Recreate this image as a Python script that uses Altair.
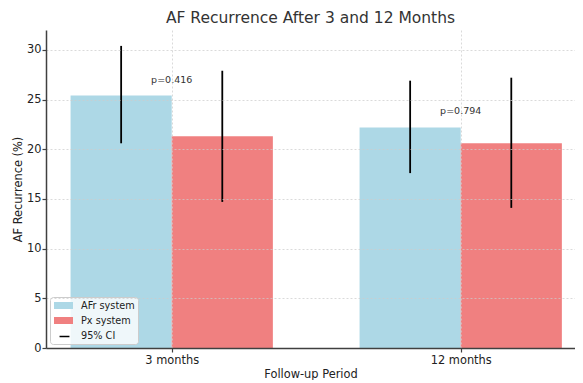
import altair as alt
import pandas as pd

# ---- data ----
periods = ["3 months", "12 months"]
series_names = ["AFr system", "Px system"]
afr_values = [25.4, 22.2]
px_values = [21.3, 20.6]
afr_ci_low = [20.6, 17.6]
afr_ci_high = [30.4, 26.9]
px_ci_low = [14.7, 14.1]
px_ci_high = [27.9, 27.2]
p_labels = ["p=0.416", "p=0.794"]
ci_label = "95% CI"
y_ticks = [0, 5, 10, 15, 20, 25, 30]

# ---- tables built from the arrays ----
rows = []
for i, p in enumerate(periods):
    rows.append(dict(period=p, idx=i, series=series_names[0], side=-1,
                     value=afr_values[i], lo=afr_ci_low[i], hi=afr_ci_high[i]))
    rows.append(dict(period=p, idx=i, series=series_names[1], side=1,
                     value=px_values[i], lo=px_ci_low[i], hi=px_ci_high[i]))
df = pd.DataFrame(rows)

pdf = pd.DataFrame({
    "idx": list(range(len(periods))),
    "label": p_labels,
    "top": [max(a, b) for a, b in zip(afr_values, px_values)],
})

BAR_W = 0.35
FONT = "DejaVu Sans"
PLOT_W = 529
PLOT_H = 318

x_scale = alt.Scale(domain=[-0.435, -0.435 + PLOT_W / 289.0], nice=False, zero=False)
y_scale = alt.Scale(domain=[0, 32], nice=False)

label_expr = "[" + ",".join("'" + p + "'" for p in periods) + "][datum.value]"

x_axis = alt.Axis(values=list(range(len(periods))), labelExpr=label_expr,
                  title="Follow-up Period", grid=True, zindex=1)
y_axis = alt.Axis(values=y_ticks, title="AF Recurrence (%)", grid=True, zindex=1)

base = alt.Chart(df).transform_calculate(
    center=f"datum.idx + datum.side*{BAR_W/2}",
    x0=f"datum.idx + datum.side*{BAR_W/2} - {BAR_W/2}",
    x1=f"datum.idx + datum.side*{BAR_W/2} + {BAR_W/2}",
    ci=f"'{ci_label}'",
)

bars = base.mark_bar().encode(
    x=alt.X("x0:Q", scale=x_scale, axis=x_axis),
    x2="x1:Q",
    y=alt.Y("value:Q", scale=y_scale, axis=y_axis),
    y2=alt.datum(0),
    color=alt.Color(
        "series:N",
        scale=alt.Scale(domain=series_names + [ci_label],
                        range=["#ADD8E6", "#F08080", "rgba(0,0,0,0)"]),
        legend=alt.Legend(
            title=None, orient="none", legendX=4, legendY=267,
            symbolType="M-1.73,-0.64L1.73,-0.64L1.73,0.64L-1.73,0.64Z",
            symbolSize=121, symbolOffset=5, symbolStrokeWidth=0,
            labelFontSize=9.7, labelColor="#222", labelFont=FONT, labelOffset=12,
            rowPadding=4, padding=3,
            fillColor="rgba(255,255,255,0.8)", strokeColor="#cccccc",
            cornerRadius=3,
        ),
    ),
)

errs = base.mark_rule(strokeWidth=1.8).encode(
    x=alt.X("center:Q", scale=x_scale),
    y=alt.Y("lo:Q", scale=y_scale),
    y2="hi:Q",
    stroke=alt.Stroke(
        "ci:N",
        scale=alt.Scale(domain=[ci_label], range=["black"]),
        legend=alt.Legend(
            title=None, orient="none", legendX=4, legendY=297,
            symbolType="M-0.9,0L0.9,0", symbolSize=121, symbolOffset=5,
            symbolStrokeWidth=1.5, symbolStrokeColor="black",
            symbolFillColor="rgba(0,0,0,0)",
            labelExpr="''", labelFontSize=9.7, labelOffset=12,
            padding=3, fillColor="rgba(0,0,0,0)", strokeColor="rgba(0,0,0,0)",
        ),
    ),
)

ptext = alt.Chart(pdf).transform_calculate(
    ypos="datum.top + 1.6"
).mark_text(fontSize=9.5, color="#333", font=FONT, baseline="middle").encode(
    x=alt.X("idx:Q", scale=x_scale),
    y=alt.Y("ypos:Q", scale=y_scale),
    text="label:N",
)

chart = alt.layer(bars, errs, ptext).properties(
    width=PLOT_W, height=PLOT_H,
    title=alt.TitleParams("AF Recurrence After 3 and 12 Months", offset=4),
    padding={"left": 4, "top": 2, "right": 0, "bottom": 0},
).configure_view(
    stroke=None
).configure_axis(
    labelFont=FONT, titleFont=FONT, labelFontSize=11.4, titleFontSize=11.4,
    labelColor="#222", titleColor="#222", titleFontWeight="normal",
    domainColor="#404040", domainWidth=1.5, tickColor="#404040", tickSize=4,
    tickWidth=1.2,
    gridColor="#cccccc", gridDash=[2, 2], gridWidth=0.8, gridOpacity=0.9,
    labelPadding=1,
).configure_axisY(
    titlePadding=3,
).configure_axisX(
    titlePadding=3, labelPadding=2,
).configure_title(
    font=FONT, fontSize=15.5, fontWeight="normal", color="#333", anchor="middle",
)

chart.save("out.html", embed_options={"renderer": "svg", "actions": False})
